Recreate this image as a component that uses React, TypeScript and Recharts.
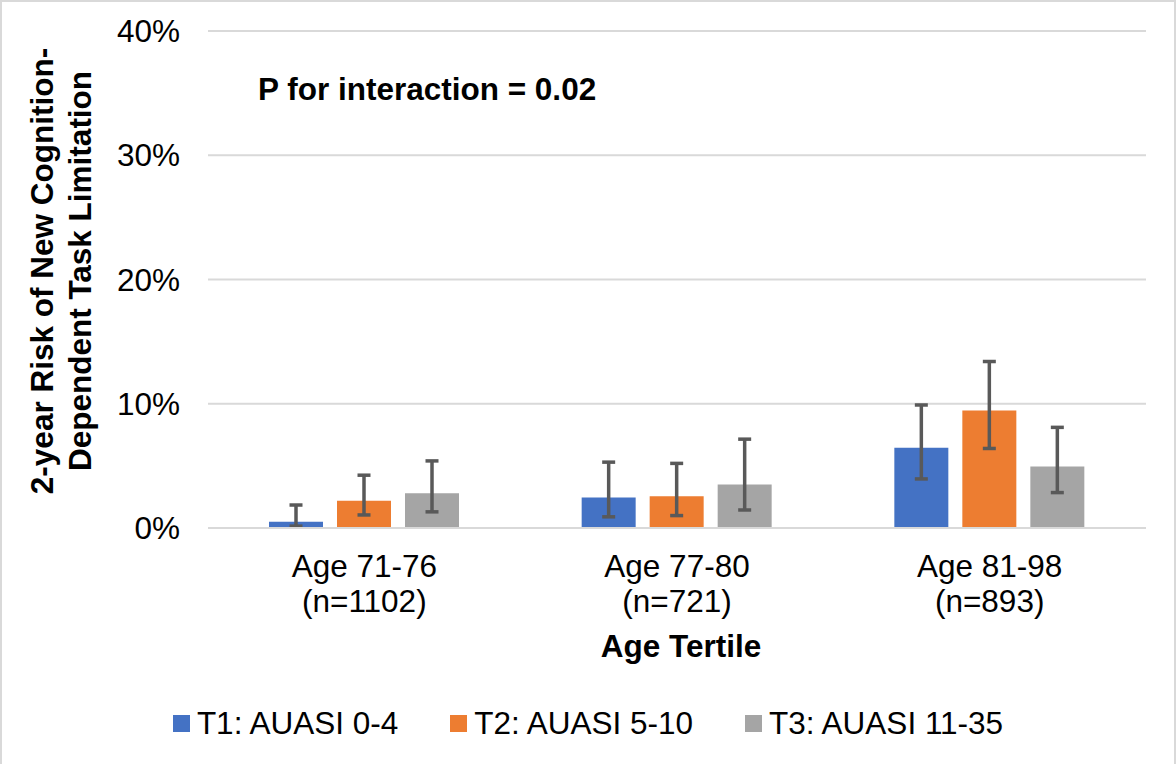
import React from "react";
import {
  BarChart,
  Bar,
  XAxis,
  YAxis,
  CartesianGrid,
  ErrorBar,
  Legend,
  Label,
} from "recharts";

const FONT = "'Liberation Sans', Arial, sans-serif";

const categories = ["Age 71-76", "Age 77-80", "Age 81-98"];
const sampleSizes = ["(n=1102)", "(n=721)", "(n=893)"];
const yTicks = [0, 10, 20, 30, 40];

const seriesNames = ["T1: AUASI 0-4", "T2: AUASI 5-10", "T3: AUASI 11-35"];
const seriesColors = ["#4472C4", "#ED7D31", "#A5A5A5"];

// risk in %, with lower / upper confidence limits
const t1 = [0.5, 2.45, 6.45];
const t1Low = [0.15, 0.9, 3.95];
const t1High = [1.85, 5.3, 9.9];

const t2 = [2.2, 2.55, 9.45];
const t2Low = [1.05, 1.0, 6.4];
const t2High = [4.25, 5.2, 13.4];

const t3 = [2.8, 3.5, 4.95];
const t3Low = [1.3, 1.45, 2.85];
const t3High = [5.4, 7.15, 8.1];

const data = categories.map((name, i) => ({
  name,
  n: sampleSizes[i],
  t1: t1[i],
  t1Err: [t1[i] - t1Low[i], t1High[i] - t1[i]],
  t2: t2[i],
  t2Err: [t2[i] - t2Low[i], t2High[i] - t2[i]],
  t3: t3[i],
  t3Err: [t3[i] - t3Low[i], t3High[i] - t3[i]],
}));

const CategoryTick = (props: any) => {
  const { x, y, payload, index } = props;
  return (
    <text x={x} y={y} textAnchor="middle" fill="#000" fontSize={31.5} fontFamily={FONT}>
      <tspan x={x} dy={41}>
        {payload.value}
      </tspan>
      <tspan x={x} dy={35}>
        {sampleSizes[index]}
      </tspan>
    </text>
  );
};

const LegendContent = () => (
  <div
    style={{
      display: "flex",
      justifyContent: "center",
      alignItems: "center",
      height: 60,
      fontFamily: FONT,
      fontSize: 31.5,
      color: "#000",
    }}
  >
    {seriesNames.map((name, i) => (
      <div
        key={name}
        style={{ display: "flex", alignItems: "center", marginLeft: i === 0 ? 0 : 52 }}
      >
        <span
          style={{
            display: "inline-block",
            width: 17,
            height: 17,
            background: seriesColors[i],
            marginRight: 7,
          }}
        />
        <span>{name}</span>
      </div>
    ))}
  </div>
);

export default function App() {
  return (
    <div
      style={{
        position: "absolute",
        left: 0,
        top: 0,
        width: 1176,
        height: 764,
        background: "#fff",
        overflow: "hidden",
      }}
    >
      <div
        style={{
          position: "absolute",
          left: 0,
          top: 0,
          width: 1176,
          height: 770,
          boxSizing: "border-box",
          border: "2px solid #d9d9d9",
          pointerEvents: "none",
        }}
      />
      <BarChart
        width={1176}
        height={764}
        data={data}
        margin={{ top: 31, right: 30, left: 0, bottom: 26 }}
        barSize={54}
        barGap={14}
      >
        <CartesianGrid vertical={false} stroke="#d9d9d9" strokeWidth={2} />
        <XAxis
          dataKey="name"
          height={150}
          axisLine={{ stroke: "#d9d9d9", strokeWidth: 2 }}
          tickLine={false}
          tick={<CategoryTick />}
          interval={0}
        >
          <Label
            content={(p: any) => {
              const vb = p.viewBox;
              return (
                <text
                  x={vb.x + vb.width / 2 + 4}
                  y={657}
                  textAnchor="middle"
                  fontWeight="bold"
                  fontSize={31.5}
                  fontFamily={FONT}
                  fill="#000"
                >
                  Age Tertile
                </text>
              );
            }}
          />
        </XAxis>
        <YAxis
          width={208}
          domain={[0, 40]}
          ticks={yTicks}
          interval={0}
          axisLine={false}
          tickLine={false}
          tickMargin={22}
          tickFormatter={(v: number) => `${v}%`}
          tick={{ fill: "#000", fontSize: 31.5, fontFamily: FONT }}
        >
          <Label
            content={() => (
              <g fontWeight="bold" fontSize={31.5} fontFamily={FONT} fill="#000">
                <text x={53} y={271} textAnchor="middle" transform="rotate(-90, 53, 271)">
                  2-year Risk of New Cognition-
                </text>
                <text x={91} y={271} textAnchor="middle" transform="rotate(-90, 91, 271)">
                  Dependent Task Limitation
                </text>
              </g>
            )}
          />
        </YAxis>
        <Legend
          verticalAlign="bottom"
          height={60}
          wrapperStyle={{ top: 693, left: 0, width: 1176 }}
          content={<LegendContent />}
        />
        <Bar dataKey="t1" name={seriesNames[0]} fill={seriesColors[0]} isAnimationActive={false}>
          <ErrorBar dataKey="t1Err" width={6.5} strokeWidth={3.5} stroke="#595959" />
        </Bar>
        <Bar dataKey="t2" name={seriesNames[1]} fill={seriesColors[1]} isAnimationActive={false}>
          <ErrorBar dataKey="t2Err" width={6.5} strokeWidth={3.5} stroke="#595959" />
        </Bar>
        <Bar dataKey="t3" name={seriesNames[2]} fill={seriesColors[2]} isAnimationActive={false}>
          <ErrorBar dataKey="t3Err" width={6.5} strokeWidth={3.5} stroke="#595959" />
        </Bar>
      </BarChart>
      <div
        style={{
          position: "absolute",
          left: 258,
          top: 74,
          fontFamily: FONT,
          fontSize: 31.5,
          lineHeight: "31px",
          fontWeight: "bold",
          color: "#000",
          whiteSpace: "nowrap",
        }}
      >
        P for interaction = 0.02
      </div>
    </div>
  );
}
